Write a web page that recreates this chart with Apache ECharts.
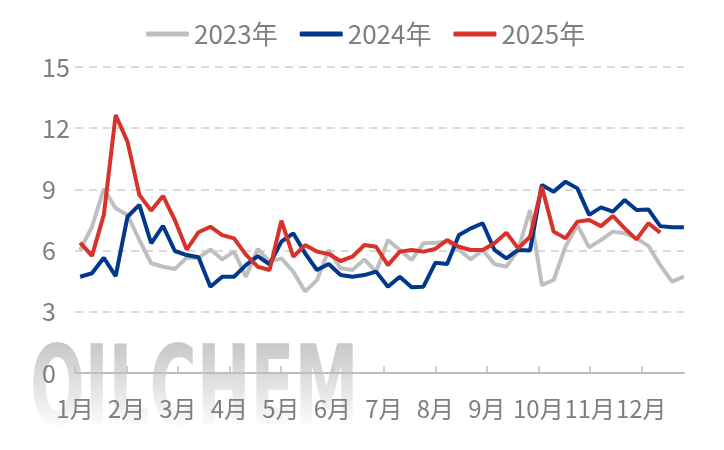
<!DOCTYPE html>
<html>
<head>
<meta charset="utf-8">
<script src="https://cdn.jsdelivr.net/npm/echarts@6/dist/echarts.min.js"></script>
<style>
  html, body { margin: 0; padding: 0; background: #fff; }
  #chart { width: 724px; height: 450px; }
</style>
</head>
<body>
<div id="chart"></div>
<script>
// datos semanales
const meses = ['1月', '2月', '3月', '4月', '5月', '6月', '7月', '8月', '9月', '10月', '11月', '12月'];
const ticksY = [0, 3, 6, 9, 12, 15];

const serie2023 = [6.03, 7.17, 9.03, 8.07, 7.75, 6.52, 5.38, 5.21, 5.10, 5.65,
  5.65, 6.05, 5.57, 5.95, 4.72, 6.08, 5.46, 5.62, 4.97, 3.99,
  4.55, 6.03, 5.13, 5.05, 5.57, 4.97, 6.52, 6.03, 5.54, 6.36,
  6.39, 6.44, 6.03, 5.57, 6.03, 5.34, 5.21, 6.03, 7.99, 4.31,
  4.56, 6.20, 7.25, 6.16, 6.52, 6.93, 6.85, 6.60, 6.23, 5.29,
  4.48, 4.72];

const serie2024 = [4.72, 4.89, 5.65, 4.75, 7.66, 8.24, 6.36, 7.21, 5.98, 5.78,
  5.67, 4.23, 4.72, 4.72, 5.29, 5.73, 5.33, 6.44, 6.85, 5.87,
  5.05, 5.34, 4.80, 4.72, 4.80, 4.97, 4.23, 4.72, 4.20, 4.23,
  5.40, 5.34, 6.76, 7.09, 7.34, 6.03, 5.62, 6.03, 6.00, 9.22,
  8.89, 9.38, 9.05, 7.75, 8.12, 7.91, 8.48, 7.99, 8.02, 7.20,
  7.14, 7.14];

const serie2025 = [6.39, 5.74, 7.75, 12.65, 11.34, 8.73, 7.96, 8.68, 7.50, 6.05,
  6.90, 7.17, 6.76, 6.60, 5.80, 5.21, 5.05, 7.47, 5.70, 6.27,
  5.95, 5.83, 5.49, 5.70, 6.27, 6.19, 5.29, 5.95, 6.03, 5.95,
  6.08, 6.52, 6.19, 6.03, 6.03, 6.36, 6.88, 6.11, 6.68, 9.13,
  6.93, 6.60, 7.42, 7.50, 7.20, 7.70, 7.09, 6.55, 7.34, 6.88];

const nombres = ['2023年', '2024年', '2025年'];
const colores = ['#BFBFBF', '#00388C', '#D9322A'];

// semana -> posición en meses
const aMes = (valores) => valores.map((v, i) => [0.1 + i * 7 / 30.44, v]);

const fuente = '"Microsoft YaHei", "Noto Sans CJK SC", sans-serif';

const grafico = echarts.init(document.getElementById('chart'), null, { renderer: 'canvas' });

const option = {
    backgroundColor: '#fff',
    animation: false,
    graphic: [
        {
            // marca de agua
            type: 'text',
            left: 30,
            top: 340,
            z: -10,
            silent: true,
            scaleX: 0.65,
            style: {
                text: 'OILCHEM',
                font: 'bold 110px "DejaVu Sans Condensed", sans-serif',
                fill: '#C9C9C9'
            }
        },
        {
            // degradado que la desvanece hacia abajo
            type: 'rect',
            left: 25,
            top: 346,
            z: -9,
            silent: true,
            shape: { width: 340, height: 90 },
            style: {
                fill: new echarts.graphic.LinearGradient(0, 0, 0, 1, [
                    { offset: 0, color: 'rgba(255,255,255,0)' },
                    { offset: 0.85, color: 'rgba(255,255,255,0.9)' },
                    { offset: 1, color: 'rgba(255,255,255,1)' }
                ])
            }
        }
    ],
    legend: {
        top: 16,
        left: 141,
        itemWidth: 43,
        itemHeight: 5,
        itemGap: 22,
        icon: 'roundRect',
        textStyle: { color: '#7F7F7F', fontSize: 26, fontFamily: fuente },
        data: nombres
    },
    grid: { left: 75, right: 40, top: 67, bottom: 77 },
    xAxis: {
        type: 'value',
        min: 0,
        max: 11.83,
        axisLine: { lineStyle: { color: '#BFBFBF', width: 2 } },
        axisTick: {
            inside: true, length: 7,
            lineStyle: { color: '#BFBFBF', width: 1.5 },
            customValues: meses.map((m, i) => i)
        },
        axisLabel: {
            customValues: meses.map((m, i) => i),
            formatter: (v) => meses[Math.round(v)],
            color: '#7F7F7F', fontSize: 24, fontFamily: fuente, margin: 24
        },
        splitLine: { show: false }
    },
    yAxis: {
        type: 'value',
        min: ticksY[0],
        max: ticksY[ticksY.length - 1],
        interval: 3,
        axisLine: { show: false },
        axisTick: { show: false },
        axisLabel: {
            color: '#7F7F7F', fontSize: 25, fontFamily: fuente,
            align: 'left', margin: 33
        },
        splitLine: { lineStyle: { color: '#D9D9D9', width: 2, type: [8, 6] } }
    },
    series: [serie2023, serie2024, serie2025].map((d, k) => ({
        name: nombres[k],
        type: 'line',
        data: aMes(d),
        showSymbol: false,
        symbol: 'none',
        lineStyle: { color: colores[k], width: 4 },
        itemStyle: { color: colores[k] },
        z: 2 + k
    }))
};

grafico.setOption(option);
</script>
</body>
</html>
